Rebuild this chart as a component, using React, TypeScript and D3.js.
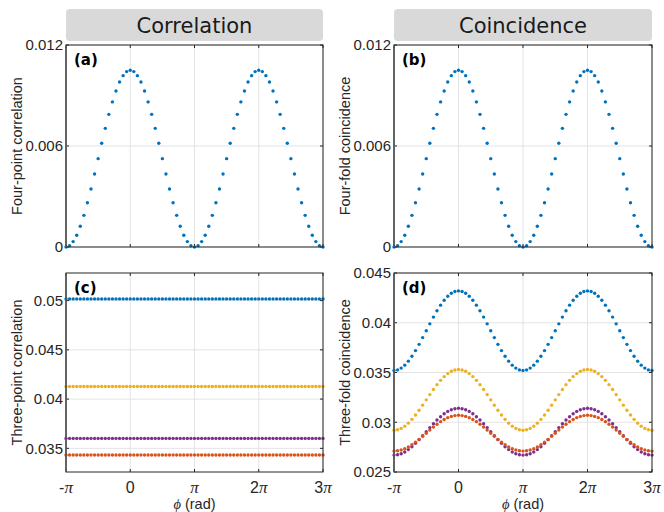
import React from "react";
import * as d3 from "d3";

const W = 664;
const H = 512;

// phase grid in degrees, -pi .. 3pi in 10 degree steps
const phiDeg = d3.range(-180, 541, 10);
const xTicks = [-180, 0, 180, 360, 540];
const xTickLabels = [["-", "π"], ["0", ""], ["", "π"], ["2", "π"], ["3", "π"]];

const colors = ["#0072BD", "#EDB120", "#7E2F8E", "#D95319"];

// (a) four-point correlation
const fourPointCorr = [
  0, 0.00008, 0.00032, 0.0007, 0.00123, 0.00188, 0.00263, 0.00345, 0.00434, 0.00525, 0.00616, 0.00705, 0.00788, 0.00862, 0.00927, 0.0098, 0.01018, 0.01042, 0.0105,
  0.01042, 0.01018, 0.0098, 0.00927, 0.00862, 0.00788, 0.00705, 0.00616, 0.00525, 0.00434, 0.00345, 0.00263, 0.00188, 0.00123, 0.0007, 0.00032, 0.00008, 0,
  0.00008, 0.00032, 0.0007, 0.00123, 0.00188, 0.00263, 0.00345, 0.00434, 0.00525, 0.00616, 0.00705, 0.00788, 0.00862, 0.00927, 0.0098, 0.01018, 0.01042, 0.0105,
  0.01042, 0.01018, 0.0098, 0.00927, 0.00862, 0.00788, 0.00705, 0.00616, 0.00525, 0.00434, 0.00345, 0.00263, 0.00188, 0.00123, 0.0007, 0.00032, 0.00008, 0,
];

// (b) four-fold coincidence
const fourFoldCoinc = [
  0, 0.00008, 0.00032, 0.0007, 0.00123, 0.00188, 0.00263, 0.00345, 0.00434, 0.00525, 0.00616, 0.00705, 0.00788, 0.00862, 0.00927, 0.0098, 0.01018, 0.01042, 0.0105,
  0.01042, 0.01018, 0.0098, 0.00927, 0.00862, 0.00788, 0.00705, 0.00616, 0.00525, 0.00434, 0.00345, 0.00263, 0.00188, 0.00123, 0.0007, 0.00032, 0.00008, 0,
  0.00008, 0.00032, 0.0007, 0.00123, 0.00188, 0.00263, 0.00345, 0.00434, 0.00525, 0.00616, 0.00705, 0.00788, 0.00862, 0.00927, 0.0098, 0.01018, 0.01042, 0.0105,
  0.01042, 0.01018, 0.0098, 0.00927, 0.00862, 0.00788, 0.00705, 0.00616, 0.00525, 0.00434, 0.00345, 0.00263, 0.00188, 0.00123, 0.0007, 0.00032, 0.00008, 0,
];

// (c) three-point correlation: flat levels per series
const threePointLevels = [0.05017, 0.04128, 0.03601, 0.03433];

// (d) three-fold coincidence
const threeFoldBlue = [
  0.0352, 0.03526, 0.03544, 0.03574, 0.03614, 0.03663, 0.0372, 0.03783, 0.03851, 0.0392, 0.03989, 0.04057, 0.0412, 0.04177, 0.04226, 0.04266, 0.04296, 0.04314, 0.0432,
  0.04314, 0.04296, 0.04266, 0.04226, 0.04177, 0.0412, 0.04057, 0.03989, 0.0392, 0.03851, 0.03783, 0.0372, 0.03663, 0.03614, 0.03574, 0.03544, 0.03526, 0.0352,
  0.03526, 0.03544, 0.03574, 0.03614, 0.03663, 0.0372, 0.03783, 0.03851, 0.0392, 0.03989, 0.04057, 0.0412, 0.04177, 0.04226, 0.04266, 0.04296, 0.04314, 0.0432,
  0.04314, 0.04296, 0.04266, 0.04226, 0.04177, 0.0412, 0.04057, 0.03989, 0.0392, 0.03851, 0.03783, 0.0372, 0.03663, 0.03614, 0.03574, 0.03544, 0.03526, 0.0352,
];
const threeFoldYellow = [
  0.0292, 0.02925, 0.02938, 0.02961, 0.02991, 0.03029, 0.03073, 0.03121, 0.03172, 0.03225, 0.03278, 0.03329, 0.03378, 0.03421, 0.03459, 0.03489, 0.03512, 0.03525, 0.0353,
  0.03525, 0.03512, 0.03489, 0.03459, 0.03421, 0.03378, 0.03329, 0.03278, 0.03225, 0.03172, 0.03121, 0.03073, 0.03029, 0.02991, 0.02961, 0.02938, 0.02925, 0.0292,
  0.02925, 0.02938, 0.02961, 0.02991, 0.03029, 0.03073, 0.03121, 0.03172, 0.03225, 0.03278, 0.03329, 0.03378, 0.03421, 0.03459, 0.03489, 0.03512, 0.03525, 0.0353,
  0.03525, 0.03512, 0.03489, 0.03459, 0.03421, 0.03378, 0.03329, 0.03278, 0.03225, 0.03172, 0.03121, 0.03073, 0.03029, 0.02991, 0.02961, 0.02938, 0.02925, 0.0292,
];
const threeFoldPurple = [
  0.0267, 0.02674, 0.02684, 0.02701, 0.02725, 0.02754, 0.02788, 0.02825, 0.02864, 0.02905, 0.02946, 0.02985, 0.03023, 0.03056, 0.03085, 0.03109, 0.03126, 0.03136, 0.0314,
  0.03136, 0.03126, 0.03109, 0.03085, 0.03056, 0.03023, 0.02985, 0.02946, 0.02905, 0.02864, 0.02825, 0.02788, 0.02754, 0.02725, 0.02701, 0.02684, 0.02674, 0.0267,
  0.02674, 0.02684, 0.02701, 0.02725, 0.02754, 0.02788, 0.02825, 0.02864, 0.02905, 0.02946, 0.02985, 0.03023, 0.03056, 0.03085, 0.03109, 0.03126, 0.03136, 0.0314,
  0.03136, 0.03126, 0.03109, 0.03085, 0.03056, 0.03023, 0.02985, 0.02946, 0.02905, 0.02864, 0.02825, 0.02788, 0.02754, 0.02725, 0.02701, 0.02684, 0.02674, 0.0267,
];
const threeFoldOrange = [
  0.0271, 0.02713, 0.02721, 0.02734, 0.02752, 0.02774, 0.028, 0.02828, 0.02859, 0.0289, 0.02921, 0.02952, 0.0298, 0.03006, 0.03028, 0.03046, 0.03059, 0.03067, 0.0307,
  0.03067, 0.03059, 0.03046, 0.03028, 0.03006, 0.0298, 0.02952, 0.02921, 0.0289, 0.02859, 0.02828, 0.028, 0.02774, 0.02752, 0.02734, 0.02721, 0.02713, 0.0271,
  0.02713, 0.02721, 0.02734, 0.02752, 0.02774, 0.028, 0.02828, 0.02859, 0.0289, 0.02921, 0.02952, 0.0298, 0.03006, 0.03028, 0.03046, 0.03059, 0.03067, 0.0307,
  0.03067, 0.03059, 0.03046, 0.03028, 0.03006, 0.0298, 0.02952, 0.02921, 0.0289, 0.02859, 0.02828, 0.028, 0.02774, 0.02752, 0.02734, 0.02721, 0.02713, 0.0271,
];

const SANS = "'Liberation Sans', Arial, sans-serif";
const SERIF = "'Liberation Serif', 'Times New Roman', serif";

type Series = { values: number[]; color: string };

const Panel = ({ left, top, width, height, yDomain, yTicks, yLabel, tag, series, showX }: {
  left: number; top: number; width: number; height: number;
  yDomain: [number, number]; yTicks: number[]; yLabel: string; tag: string;
  series: Series[]; showX: boolean;
}) => {
  const x = d3.scaleLinear().domain([-180, 540]).range([left, left + width]);
  const y = d3.scaleLinear().domain(yDomain).range([top + height, top]);
  const fmt = (v: number) => (v === 0 ? "0" : String(+v.toFixed(4)));
  const bottom = top + height;
  const right = left + width;
  return (
    <g>
      {xTicks.map((t) => (
        <line key={"gx" + t} x1={x(t)} x2={x(t)} y1={top} y2={bottom} stroke="#e3e3e3" />
      ))}
      {yTicks.map((t) => (
        <line key={"gy" + t} x1={left} x2={right} y1={y(t)} y2={y(t)} stroke="#e3e3e3" />
      ))}
      {xTicks.map((t) => (
        <g key={"tx" + t} stroke="#262626">
          <line x1={x(t)} x2={x(t)} y1={bottom} y2={bottom - 3} />
          <line x1={x(t)} x2={x(t)} y1={top} y2={top + 3} />
        </g>
      ))}
      {yTicks.map((t) => (
        <g key={"ty" + t} stroke="#262626">
          <line x1={left} x2={left + 3} y1={y(t)} y2={y(t)} />
          <line x1={right} x2={right - 3} y1={y(t)} y2={y(t)} />
        </g>
      ))}
      {series.map((s, si) =>
        s.values.map((v, i) => (
          <circle key={si + "-" + i} cx={x(phiDeg[i])} cy={y(v)} r={1.7} fill={s.color} />
        ))
      )}
      <rect x={left} y={top} width={width} height={height} fill="none" stroke="#262626" strokeWidth={1} />
      <line x1={left} x2={left} y1={top} y2={bottom} stroke="#5a5a5a" strokeWidth={1.6} />
      {yTicks.map((t) => (
        <text key={"ly" + t} x={left - 3} y={y(t)} dy="0.35em" textAnchor="end" fontFamily={SANS} fontSize={15} fill="#262626">
          {fmt(t)}
        </text>
      ))}
      {showX &&
        xTicks.map((t, i) => (
          <text key={"lx" + t} x={x(t)} y={bottom + 21} textAnchor="middle" fontSize={16} fill="#262626">
            <tspan fontFamily={SANS}>{xTickLabels[i][0]}</tspan>
            <tspan fontFamily={SERIF} fontStyle="italic" fontSize={17}>{xTickLabels[i][1]}</tspan>
          </text>
        ))}
      {showX && (
        <text x={(left + right) / 2} y={bottom + 37} textAnchor="middle" fontSize={14.5} fill="#262626">
          <tspan fontFamily={SERIF} fontStyle="italic">ϕ</tspan>
          <tspan fontFamily={SANS}> (rad)</tspan>
        </text>
      )}
      <text
        transform={`translate(${left - 44}, ${(top + bottom) / 2}) rotate(-90)`}
        textAnchor="middle" fontFamily={SANS} fontSize={14.5} fill="#262626"
      >
        {yLabel}
      </text>
      <text x={left + 8} y={top + 20} fontFamily="'DejaVu Sans', sans-serif" fontWeight="bold" fontSize={15} fill="#000">
        {tag}
      </text>
    </g>
  );
};

const Header = ({ left, width, label }: { left: number; width: number; label: string }) => (
  <g>
    <rect x={left} y={9} width={width} height={32} rx={4} fill="#d9d9d9" />
    <text x={left + width / 2} y={33} textAnchor="middle" fontFamily="'DejaVu Sans', sans-serif" fontSize={21} fill="#1a1a1a">
      {label}
    </text>
  </g>
);

export default function App() {
  const colL = 66, colR = 394, pw = 257, pw2 = 258;
  const rowT = 45, ph = 202, rowB = 273, ph2 = 199;
  return (
    <svg width={W} height={H} style={{ position: "absolute", left: 0, top: 0, background: "#fff" }}>
      <Header left={colL} width={pw} label="Correlation" />
      <Header left={colR} width={pw2} label="Coincidence" />
      <Panel left={colL} top={rowT} width={pw} height={ph} yDomain={[0, 0.012]} yTicks={[0, 0.006, 0.012]}
        yLabel="Four-point correlation" tag="(a)" showX={false}
        series={[{ values: fourPointCorr, color: colors[0] }]} />
      <Panel left={colR} top={rowT} width={pw2} height={ph} yDomain={[0, 0.012]} yTicks={[0, 0.006, 0.012]}
        yLabel="Four-fold coincidence" tag="(b)" showX={false}
        series={[{ values: fourFoldCoinc, color: colors[0] }]} />
      <Panel left={colL} top={rowB} width={pw} height={ph2} yDomain={[0.0326, 0.0528]} yTicks={[0.035, 0.04, 0.045, 0.05]}
        yLabel="Three-point correlation" tag="(c)" showX={true}
        series={threePointLevels.map((lv, i) => ({ values: phiDeg.map(() => lv), color: colors[i] }))} />
      <Panel left={colR} top={rowB} width={pw2} height={ph2} yDomain={[0.025, 0.045]} yTicks={[0.025, 0.03, 0.035, 0.04, 0.045]}
        yLabel="Three-fold coincidence" tag="(d)" showX={true}
        series={[
          { values: threeFoldBlue, color: colors[0] },
          { values: threeFoldYellow, color: colors[1] },
          { values: threeFoldPurple, color: colors[2] },
          { values: threeFoldOrange, color: colors[3] },
        ]} />
    </svg>
  );
}
